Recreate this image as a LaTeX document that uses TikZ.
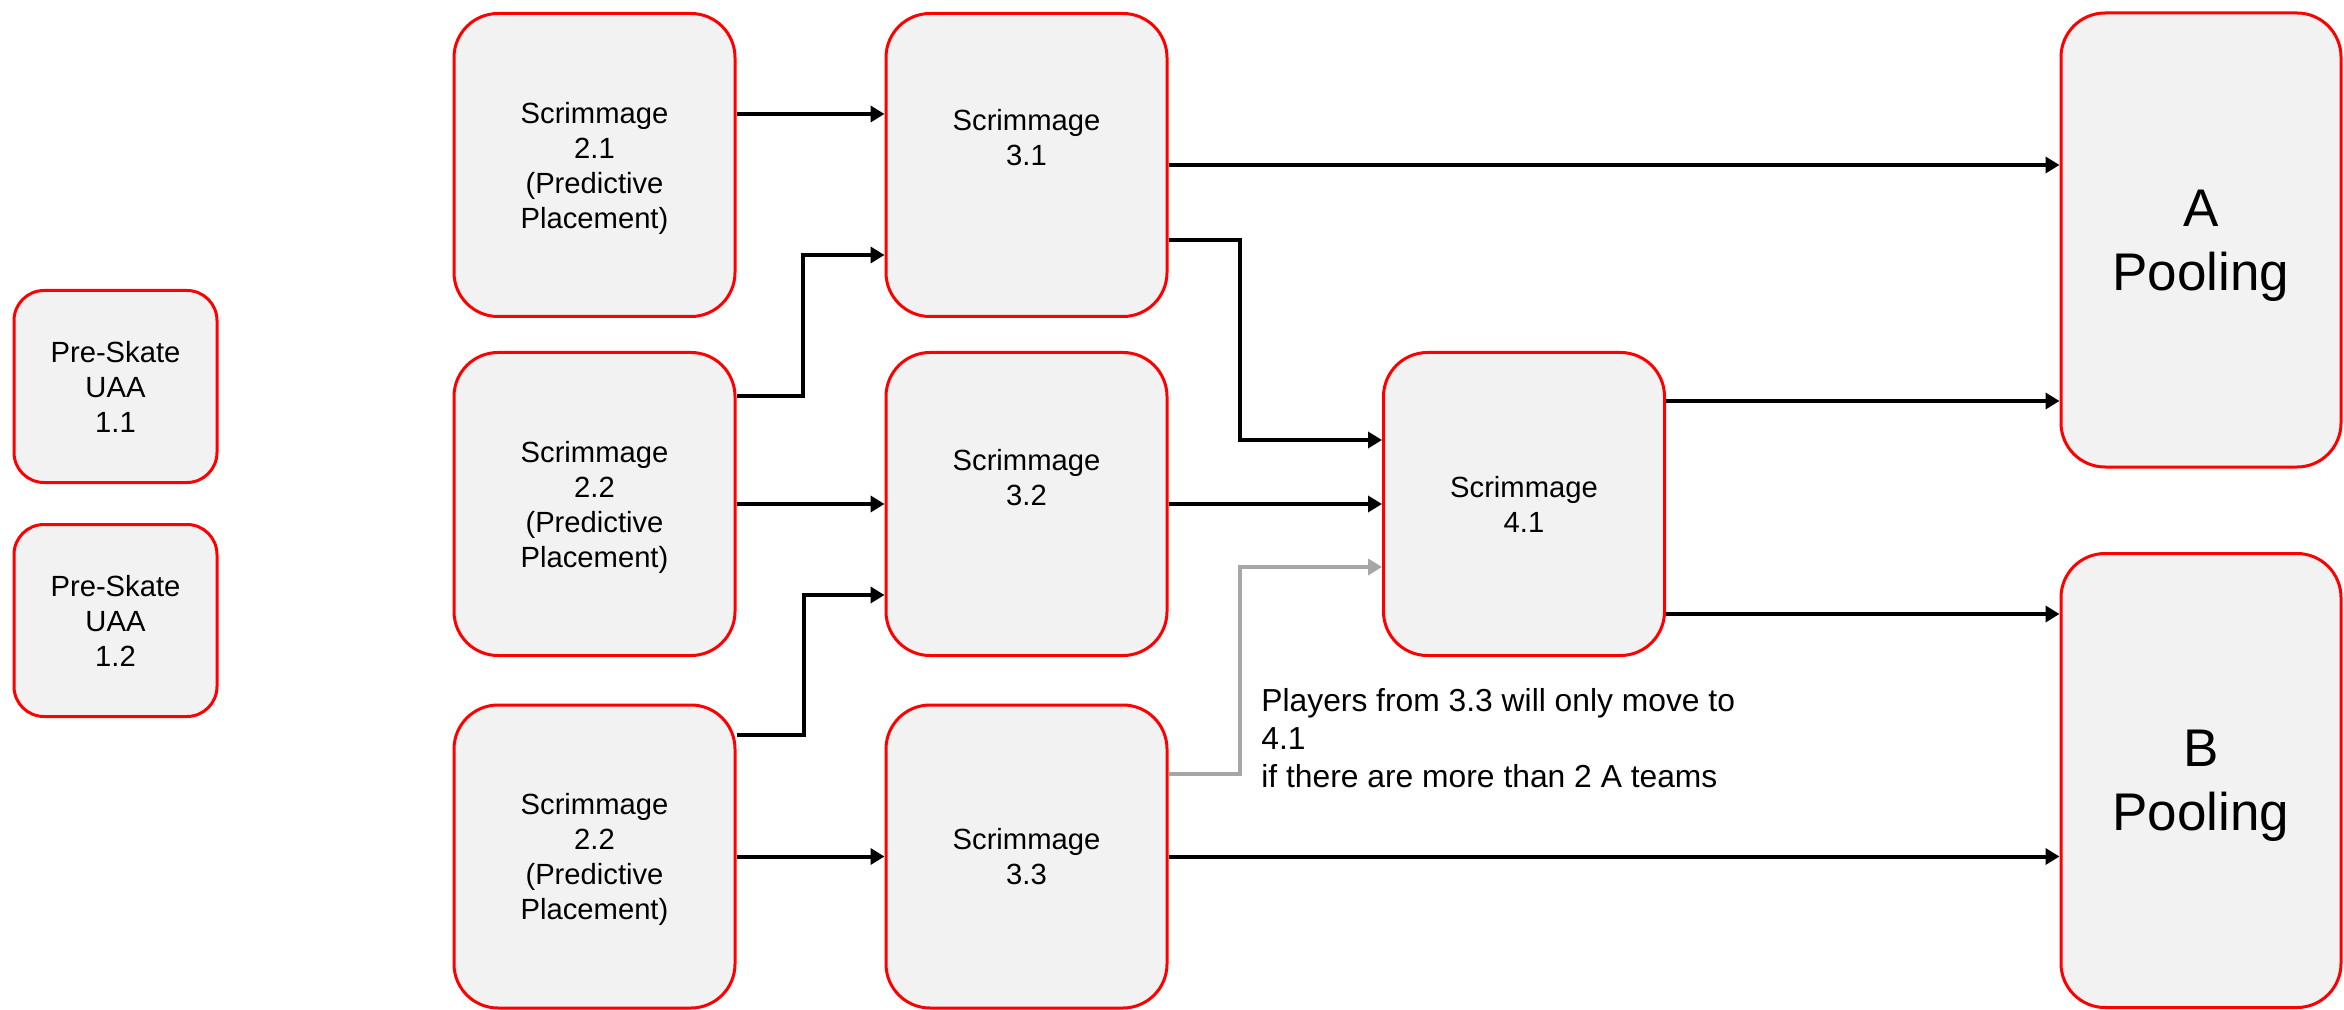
\documentclass[tikz,border=0pt]{standalone}
\usepackage{fontspec}
\setmainfont{Liberation Sans}
\usetikzlibrary{arrows.meta,calc}
\definecolor{boxfill}{HTML}{F2F2F2}
\definecolor{boxred}{HTML}{FF0000}
\definecolor{arrgray}{HTML}{A6A6A6}
\tikzset{
  box/.style={draw=boxred, fill=boxfill, line width=1.5pt, rounded corners=22pt,
    align=center, inner sep=0pt, text depth=0pt, font=\fontsize{14.6}{17.5}\selectfont,
    minimum width=140.5pt, minimum height=151.5pt},
  prebox/.style={box, rounded corners=15pt, minimum width=101.5pt, minimum height=96pt},
  poolbox/.style={box, minimum width=140pt, minimum height=227pt,
    font=\fontsize{26.5}{32}\selectfont},
  boxtext/.style={align=center, inner sep=0pt, text depth=0pt, font=\fontsize{14.6}{17.5}\selectfont},
  notetext/.style={align=left, inner sep=0pt, font=\fontsize{15.9}{19}\selectfont},
  arr/.style={line width=2pt, -{Triangle[length=7pt,width=8pt]}},
  grayarr/.style={arr, color=arrgray}
}
\begin{document}
\begin{tikzpicture}[x=0.5pt, y=-0.5pt]
\useasboundingbox (0,0) rectangle (2344,1010);

% Pre-skate boxes
\node[prebox] (p11) at (115.5,386.5) {Pre-Skate\\UAA\\1.1};
\node[prebox] (p12) at (115.5,620.5) {Pre-Skate\\UAA\\1.2};

% Column 2
\node[box] (s21) at (594.5,165) {Scrimmage\\2.1\\(Predictive\\Placement)};
\node[box] (s22a) at (594.5,504) {Scrimmage\\2.2\\(Predictive\\Placement)};
\node[box] (s22b) at (594.5,856.5) {Scrimmage\\2.2\\(Predictive\\Placement)};

% Column 3
\node[box] (s31) at (1026.5,165) {};
\node[boxtext] (s31t) at ($(s31.center)+(0,-27.5)$) {Scrimmage\\3.1};
\node[box] (s32) at (1026.5,504) {};
\node[boxtext] (s32t) at ($(s32.center)+(0,-27)$) {Scrimmage\\3.2};
\node[box] (s33) at (1026.5,856.5) {Scrimmage\\3.3};

% Column 4
\node[box] (s41) at (1524,504) {Scrimmage\\4.1};

% Pooling
\node[poolbox] (pa) at (2201,240) {A\\Pooling};
\node[poolbox] (pb) at (2201,780.5) {B\\Pooling};

% Note
\node[notetext, anchor=north west] (note) at (1261,688)
  {Players from 3.3 will only move to\\4.1\\if there are more than 2 A teams};

% Connectors
\draw[arr] ($(s21.east)+(0,-51)$) -- ($(s31.west)+(0,-51)$);
\draw[arr] (s31.east) -- (s31.east -| pa.west);
\draw[arr] ($(s31.east)+(0,75)$) -| ($(s41.west)+(-142,-64)$) -- ($(s41.west)+(0,-64)$);
\draw[arr] ($(s22a.east)+(0,-108)$) -| ($(s31.west)+(-82,90)$) -- ($(s31.west)+(0,90)$);
\draw[arr] (s22a.east) -- (s32.west);
\draw[arr] (s32.east) -- (s41.west);
\draw[arr] ($(s22b.east)+(0,-121.5)$) -| ($(s32.west)+(-81,91)$) -- ($(s32.west)+(0,91)$);
\draw[arr] (s22b.east) -- (s33.west);
\draw[arr] (s33.east) -- (s33.east -| pb.west);
\draw[grayarr] ($(s33.east)+(0,-82.5)$) -| ($(s41.west)+(-142,63)$) -- ($(s41.west)+(0,63)$);
\draw[arr] ($(s41.east)+(0,-103)$) -- ($(s41.east -| pa.west)+(0,-103)$);
\draw[arr] ($(s41.east)+(0,110)$) -- ($(s41.east -| pb.west)+(0,110)$);
\end{tikzpicture}
\end{document}
